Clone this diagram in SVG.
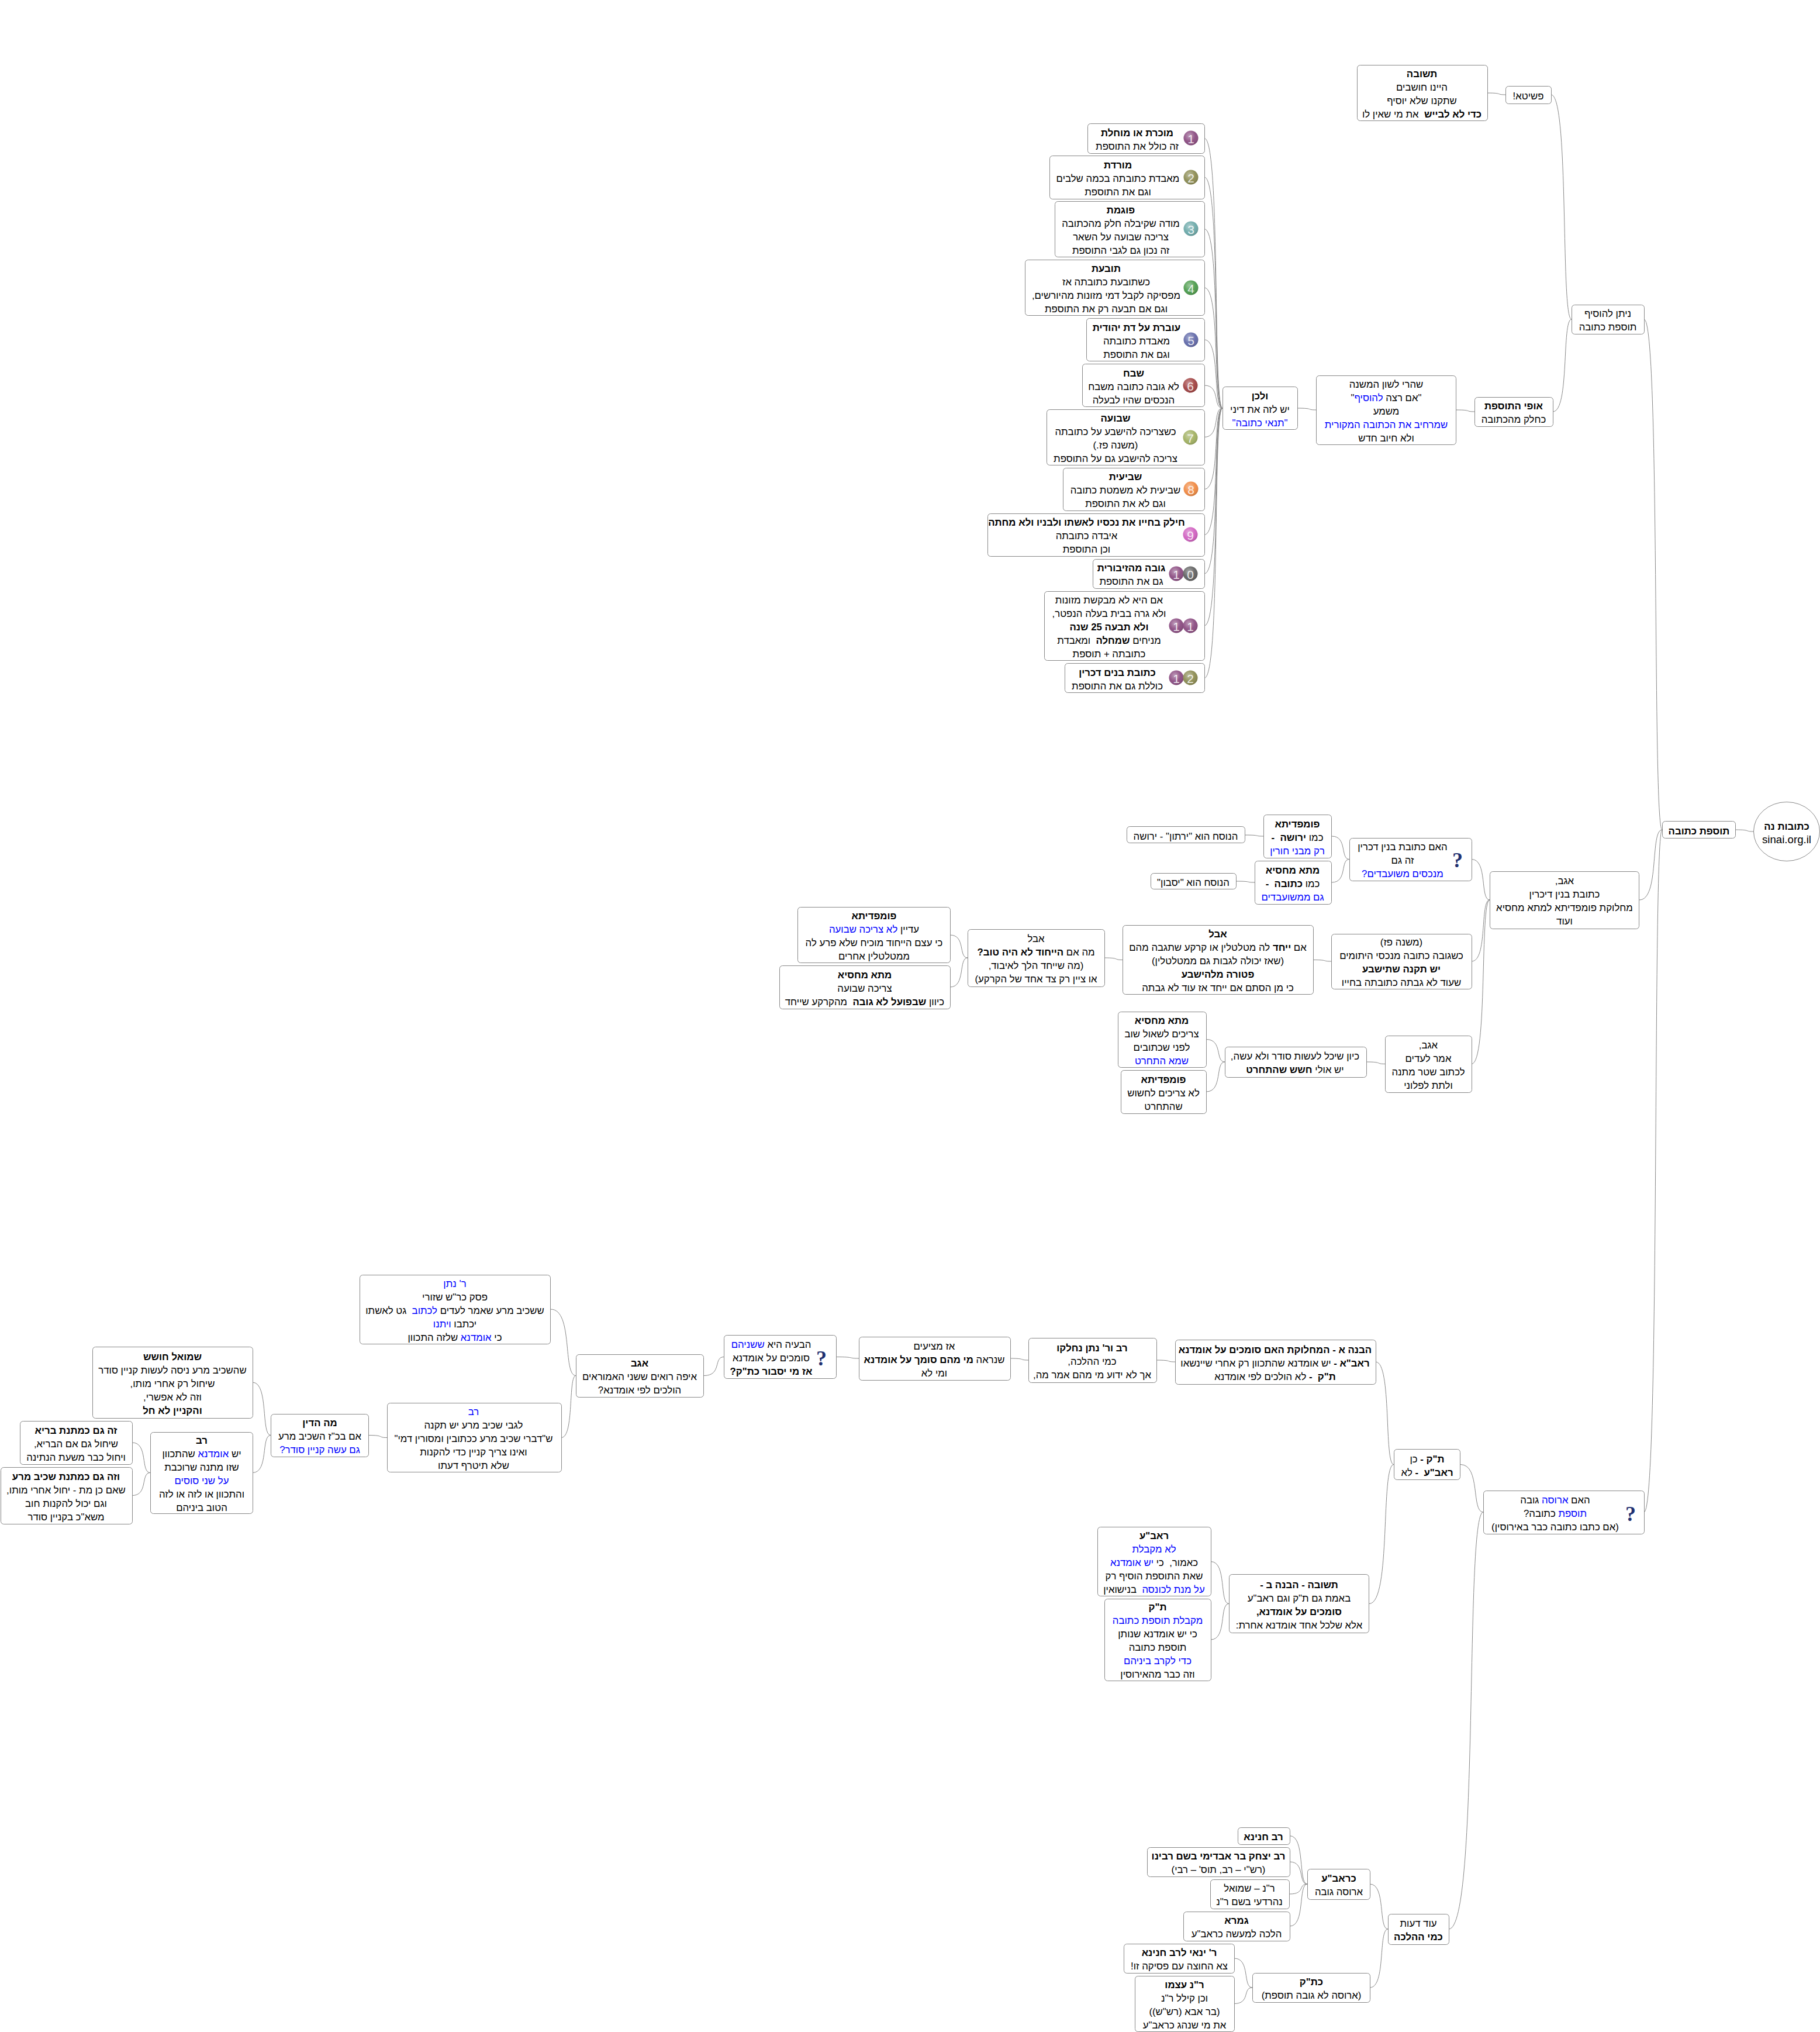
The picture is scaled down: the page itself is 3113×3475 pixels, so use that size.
<svg xmlns="http://www.w3.org/2000/svg" width="3113" height="3475" viewBox="0 0 3113 3475">
<style>
text{font-family:"Liberation Sans",Arial,sans-serif;font-size:16.8px;direction:rtl;text-anchor:middle;fill:#000;transform:translateY(1.5px)}
.b{font-weight:bold}
.u{fill:#00f}
rect,ellipse{fill:#fff;stroke:#888;stroke-width:1}
rect{rx:5px;ry:5px}
#edges path{fill:none;stroke:#888;stroke-width:1}
.gl{fill:url(#gloss);stroke:none}
text.d{font-size:21px;fill:#fff;direction:ltr;fill-opacity:.85}
text.q{font-family:"Liberation Serif",serif;font-weight:bold;font-size:36px;fill:#1f3070}
</style>
<defs>
<radialGradient id="gloss" cx=".4" cy=".35" r=".7"><stop offset="0" stop-color="#fff" stop-opacity=".45"/><stop offset=".6" stop-color="#fff" stop-opacity=".05"/><stop offset="1" stop-color="#000" stop-opacity=".2"/></radialGradient>
</defs>
<rect x="0" y="0" width="3113" height="3475" style="fill:#fff;stroke:none;rx:0;ry:0"/>
<g id="edges">
<path d="M2544 159C2572 159 2558 162 2575 162"/>
<path d="M2653 162C2684.500 162 2669 546 2688 546"/>
<path d="M2656 704C2685 704 2671 546 2688 546"/>
<path d="M2491 701C2519 701 2505 704 2522 704"/>
<path d="M2219 698C2248 698 2234 701 2251 701"/>
<path d="M2060 236.500C2088 236.500 2074 698 2091 698"/>
<path d="M2060 303C2088 303 2074 698 2091 698"/>
<path d="M2060 391.500C2088 391.500 2074 698 2091 698"/>
<path d="M2060 492C2088 492 2074 698 2091 698"/>
<path d="M2060 581C2088 581 2074 698 2091 698"/>
<path d="M2060 659C2088 659 2074 698 2091 698"/>
<path d="M2060 747.500C2088 747.500 2074 698 2091 698"/>
<path d="M2060 836.500C2088 836.500 2074 698 2091 698"/>
<path d="M2060 914.500C2088 914.500 2074 698 2091 698"/>
<path d="M2060 981C2088 981 2074 698 2091 698"/>
<path d="M2060 1070C2088 1070 2074 698 2091 698"/>
<path d="M2060 1159.500C2088 1159.500 2074 698 2091 698"/>
<path d="M2812 546C2840 546 2826 1419 2843 1419"/>
<path d="M2804 1539C2839 1539 2822 1419 2843 1419"/>
<path d="M2812 2586C2840 2586 2826 1419 2843 1419"/>
<path d="M2969 1419C2996 1419 2983 1422 2999 1422"/>
<path d="M2517 1469.500C2545 1469.500 2531 1539 2548 1539"/>
<path d="M2517 1644C2545 1644 2531 1539 2548 1539"/>
<path d="M2517 1819.500C2545 1819.500 2531 1539 2548 1539"/>
<path d="M2278 1430C2305 1430 2292 1469.500 2308 1469.500"/>
<path d="M2278 1509C2305 1509 2292 1469.500 2308 1469.500"/>
<path d="M2129 1428C2158 1428 2144 1430 2161 1430"/>
<path d="M2114 1507C2143 1507 2129 1509 2146 1509"/>
<path d="M2246 1641.500C2274 1641.500 2260 1644 2277 1644"/>
<path d="M1889 1638C1917 1638 1903 1641.500 1920 1641.500"/>
<path d="M1625 1599C1652 1599 1639 1638 1655 1638"/>
<path d="M1625 1688C1652 1688 1639 1638 1655 1638"/>
<path d="M2337 1816C2366 1816 2352 1819.500 2369 1819.500"/>
<path d="M2063 1777.500C2092 1777.500 2078 1816 2095 1816"/>
<path d="M2063 1867C2092 1867 2078 1816 2095 1816"/>
<path d="M2498 2504.500C2533 2504.500 2516 2586 2537 2586"/>
<path d="M2478 3299C2531 3299 2505 2586 2537 2586"/>
<path d="M2353 2329C2381 2329 2367 2504.500 2384 2504.500"/>
<path d="M2342 2742.500C2380 2742.500 2361 2504.500 2384 2504.500"/>
<path d="M1978 2326C2007 2326 1993 2329 2010 2329"/>
<path d="M1728 2323C1756 2323 1742 2326 1759 2326"/>
<path d="M1430 2320.500C1465 2320.500 1448 2323 1469 2323"/>
<path d="M1204 2352.500C1235 2352.500 1220 2320.500 1238 2320.500"/>
<path d="M942 2239C981 2239 962 2352.500 985 2352.500"/>
<path d="M960 2458.500C982.500 2458.500 971.500 2352.500 985 2352.500"/>
<path d="M630 2454.500C659 2454.500 645 2458.500 662 2458.500"/>
<path d="M432 2364C460 2364 446 2454.500 463 2454.500"/>
<path d="M432 2518.500C460 2518.500 446 2454.500 463 2454.500"/>
<path d="M226 2467C254 2467 240 2518.500 257 2518.500"/>
<path d="M226 2557.500C254 2557.500 240 2518.500 257 2518.500"/>
<path d="M2071 2670.500C2099 2670.500 2085 2742.500 2102 2742.500"/>
<path d="M2071 2804C2099 2804 2085 2742.500 2102 2742.500"/>
<path d="M2343 3222C2371 3222 2357 3299 2374 3299"/>
<path d="M2343 3399C2371 3399 2357 3299 2374 3299"/>
<path d="M2206 3139.500C2233 3139.500 2220 3222 2236 3222"/>
<path d="M2206 3184C2233 3184 2220 3222 2236 3222"/>
<path d="M2206 3239C2233 3239 2220 3222 2236 3222"/>
<path d="M2206 3294C2233 3294 2220 3222 2236 3222"/>
<path d="M2111 3349C2139 3349 2125 3399 2142 3399"/>
<path d="M2111 3426.500C2139 3426.500 2125 3399 2142 3399"/>
</g>
<g id="root"><ellipse cx="3056" cy="1422" rx="56.500" ry="50.500"/><text y="1417"><tspan x="3056" class="b">כתובות נה</tspan><tspan x="3056" dy="23" style="direction:ltr;font-size:18.67px">sinai.org.il</tspan></text></g>
<g id="tosefet"><rect x="2843.500" y="1404.500" width="125" height="29"/><text y="1425"><tspan x="2906" class="b">תוספת כתובה</tspan></text></g>
<g id="nitan"><rect x="2688.500" y="521.500" width="124" height="50"/><text y="540.500"><tspan x="2750">ניתן להוסיף</tspan><tspan x="2750" dy="23">תוספת כתובה</tspan></text></g>
<g id="pshita"><rect x="2575.500" y="147.500" width="78" height="30"/><text y="168"><tspan x="2614">פשיטא!</tspan></text></g>
<g id="teshuva"><rect x="2321.500" y="111.500" width="223" height="95"/><text y="130.500"><tspan x="2432" class="b">תשובה</tspan><tspan x="2432" dy="23">היינו חושבים</tspan><tspan x="2432" dy="23">שתקנו שלא יוסיף</tspan><tspan x="2432" dy="23"><tspan class="b">כדי לא לבייש</tspan>&#160; את מי שאין לו</tspan></text></g>
<g id="ofi"><rect x="2522.500" y="679.500" width="134" height="50"/><text y="698.500"><tspan x="2589" class="b">אופי התוספת</tspan><tspan x="2589" dy="23">כחלק מהכתובה</tspan></text></g>
<g id="sheharei"><rect x="2251.500" y="642.500" width="239" height="118"/><text y="661"><tspan x="2371">שהרי לשון המשנה</tspan><tspan x="2371" dy="23">"אם רצה <tspan class="u">להוסיף</tspan>"</tspan><tspan x="2371" dy="23">משמע</tspan><tspan x="2371" dy="23" class="u">שמרחיב את הכתובה המקורית</tspan><tspan x="2371" dy="23">ולא חיוב חדש</tspan></text></g>
<g id="velachen"><rect x="2091.500" y="661.500" width="128" height="73"/><text y="681"><tspan x="2155" class="b">ולכן</tspan><tspan x="2155" dy="23">יש לזה את דיני</tspan><tspan x="2155" dy="23" class="u">"תנאי כתובה"</tspan></text></g>
<g id="n1"><rect x="1860.500" y="211.500" width="200" height="51"/><text y="231"><tspan x="1945" class="b">מוכרת או מוחלת</tspan><tspan x="1945" dy="23">זה כולל את התוספת</tspan></text><circle cx="2037" cy="236" r="12.500" fill="#8a4a80"/><circle class="gl" cx="2037" cy="236" r="12.500"/><text class="d" x="2037" y="243">1</text></g>
<g id="n2"><rect x="1795.500" y="266.500" width="265" height="74"/><text y="286"><tspan x="1912" class="b">מורדת</tspan><tspan x="1912" dy="23">מאבדת כתובתה בכמה שלבים</tspan><tspan x="1912" dy="23">וגם את התוספת</tspan></text><circle cx="2037" cy="303" r="12.500" fill="#8a8a50"/><circle class="gl" cx="2037" cy="303" r="12.500"/><text class="d" x="2037" y="310">2</text></g>
<g id="n3"><rect x="1804.500" y="344.500" width="256" height="95"/><text y="363"><tspan x="1917" class="b">פוגמת</tspan><tspan x="1917" dy="23">מודה שקיבלה חלק מהכתובה</tspan><tspan x="1917" dy="23">צריכה שבועה על השאר</tspan><tspan x="1917" dy="23">זה נכון גם לגבי התוספת</tspan></text><circle cx="2037" cy="391" r="12.500" fill="#6aa8a8"/><circle class="gl" cx="2037" cy="391" r="12.500"/><text class="d" x="2037" y="398">3</text></g>
<g id="n4"><rect x="1753.500" y="444.500" width="307" height="95"/><text y="463.500"><tspan x="1892" class="b">תובעת</tspan><tspan x="1892" dy="23">כשתובעת כתובתה אז</tspan><tspan x="1892" dy="23">מפסיקה לקבל דמי מזונות מהיורשים,</tspan><tspan x="1892" dy="23">וגם אם תבעה רק את התוספת</tspan></text><circle cx="2037" cy="492" r="12.500" fill="#4a9a4a"/><circle class="gl" cx="2037" cy="492" r="12.500"/><text class="d" x="2037" y="499">4</text></g>
<g id="n5"><rect x="1858.500" y="544.500" width="202" height="73"/><text y="564"><tspan x="1944" class="b">עוברת על דת יהודית</tspan><tspan x="1944" dy="23">מאבדת כתובתה</tspan><tspan x="1944" dy="23">וגם את התוספת</tspan></text><circle cx="2037" cy="581" r="12.500" fill="#6068a8"/><circle class="gl" cx="2037" cy="581" r="12.500"/><text class="d" x="2037" y="588">5</text></g>
<g id="n6"><rect x="1851.500" y="622.500" width="209" height="73"/><text y="642"><tspan x="1939" class="b">שבח</tspan><tspan x="1939" dy="23">לא גובה כתובה משבח</tspan><tspan x="1939" dy="23">הנכסים שהיו לבעלה</tspan></text><circle cx="2036" cy="659" r="12.500" fill="#a04040"/><circle class="gl" cx="2036" cy="659" r="12.500"/><text class="d" x="2036" y="666">6</text></g>
<g id="n7"><rect x="1790.500" y="700.500" width="270" height="95"/><text y="719"><tspan x="1908" class="b">שבועה</tspan><tspan x="1908" dy="23">כשצריכה להישבע על כתובתה</tspan><tspan x="1908" dy="23">(משנה פז.)</tspan><tspan x="1908" dy="23">צריכה להישבע גם על התוספת</tspan></text><circle cx="2036" cy="748" r="12.500" fill="#a0b060"/><circle class="gl" cx="2036" cy="748" r="12.500"/><text class="d" x="2036" y="755">7</text></g>
<g id="n8"><rect x="1818.500" y="800.500" width="242" height="73"/><text y="819.500"><tspan x="1925" class="b">שביעית</tspan><tspan x="1925" dy="23">שביעית לא משמטת כתובה</tspan><tspan x="1925" dy="23">וגם לא את התוספת</tspan></text><circle cx="2037" cy="836" r="12.500" fill="#f08840"/><circle class="gl" cx="2037" cy="836" r="12.500"/><text class="d" x="2037" y="843">8</text></g>
<g id="n9"><rect x="1689.500" y="878.500" width="371" height="73"/><text y="897.500"><tspan x="1858.500" class="b">חילק בחייו את נכסיו לאשתו ולבניו ולא מחתה</tspan><tspan x="1858.500" dy="23">איבדה כתובתה</tspan><tspan x="1858.500" dy="23">וכן התוספת</tspan></text><circle cx="2036" cy="914" r="12.500" fill="#d060c0"/><circle class="gl" cx="2036" cy="914" r="12.500"/><text class="d" x="2036" y="921">9</text></g>
<g id="n10"><rect x="1869.500" y="956.500" width="191" height="50"/><text y="975.500"><tspan x="1935" class="b">גובה מהזיבורית</tspan><tspan x="1935" dy="23">גם את התוספת</tspan></text><circle cx="2012" cy="981" r="12.500" fill="#8a4a80"/><circle class="gl" cx="2012" cy="981" r="12.500"/><text class="d" x="2012" y="988">1</text><circle cx="2036" cy="981" r="12.500" fill="#606060"/><circle class="gl" cx="2036" cy="981" r="12.500"/><text class="d" x="2036" y="988">0</text></g>
<g id="n11"><rect x="1786.500" y="1011.500" width="274" height="118"/><text y="1030"><tspan x="1897">אם היא לא מבקשת מזונות</tspan><tspan x="1897" dy="23">ולא גרה בבית בעלה הנפטר,</tspan><tspan x="1897" dy="23" class="b">ולא תבעה 25 שנה</tspan><tspan x="1897" dy="23">מניחים <tspan class="b">שמחלה</tspan>&#160; ומאבדת</tspan><tspan x="1897" dy="23">כתובתה + תוספת</tspan></text><circle cx="2012" cy="1070" r="12.500" fill="#8a4a80"/><circle class="gl" cx="2012" cy="1070" r="12.500"/><text class="d" x="2012" y="1077">1</text><circle cx="2036" cy="1070" r="12.500" fill="#8a4a80"/><circle class="gl" cx="2036" cy="1070" r="12.500"/><text class="d" x="2036" y="1077">1</text></g>
<g id="n12"><rect x="1821.500" y="1134.500" width="239" height="50"/><text y="1154"><tspan x="1911" class="b">כתובת בנים דכרין</tspan><tspan x="1911" dy="23">כוללת גם את התוספת</tspan></text><circle cx="2012" cy="1159" r="12.500" fill="#8a4a80"/><circle class="gl" cx="2012" cy="1159" r="12.500"/><text class="d" x="2012" y="1166">1</text><circle cx="2036" cy="1159" r="12.500" fill="#8a8a50"/><circle class="gl" cx="2036" cy="1159" r="12.500"/><text class="d" x="2036" y="1166">2</text></g>
<g id="agav"><rect x="2548.500" y="1490.500" width="255" height="98"/><text y="1510.500"><tspan x="2676">אגב,</tspan><tspan x="2676" dy="23">כתובת בנין דיכרין</tspan><tspan x="2676" dy="23">מחלוקת פומפדיתא למתא מחסיא</tspan><tspan x="2676" dy="23">ועוד</tspan></text></g>
<g id="q"><rect x="2308.500" y="1433.500" width="209" height="73"/><text y="1452.500"><tspan x="2399">האם כתובת בנין דכרין</tspan><tspan x="2399" dy="23">זה גם</tspan><tspan x="2399" dy="23" class="u">מנכסים משועבדים?</tspan></text><text class="q" x="2493" y="1481">?</text></g>
<g id="pump"><rect x="2161.500" y="1393.500" width="116" height="74"/><text y="1413"><tspan x="2219" class="b">פומפדיתא</tspan><tspan x="2219" dy="23">כמו <tspan class="b">ירושה&#160; -</tspan></tspan><tspan x="2219" dy="23" class="u">רק מבני חורין</tspan></text></g>
<g id="mata"><rect x="2146.500" y="1472.500" width="131" height="74"/><text y="1492"><tspan x="2211" class="b">מתא מחסיא</tspan><tspan x="2211" dy="23">כמו <tspan class="b">כתובה&#160; -</tspan></tspan><tspan x="2211" dy="23" class="u">גם ממשועבדים</tspan></text></g>
<g id="nusach1"><rect x="1927.500" y="1413.500" width="202" height="28"/><text y="1434"><tspan x="2028">הנוסח הוא "ירתון" - ירושה</tspan></text></g>
<g id="nusach2"><rect x="1968.500" y="1493.500" width="146" height="27"/><text y="1513"><tspan x="2041">הנוסח הוא "יסבון"</tspan></text></g>
<g id="mishna"><rect x="2277.500" y="1597.500" width="240" height="94"/><text y="1615.500"><tspan x="2397">(משנה פז)</tspan><tspan x="2397" dy="23">כשגובה כתובה מנכסי היתומים</tspan><tspan x="2397" dy="23" class="b">יש תקנה שתישבע</tspan><tspan x="2397" dy="23">שעוד לא גבתה כתובתה בחייו</tspan></text></g>
<g id="aval"><rect x="1920.500" y="1582.500" width="326" height="118"/><text y="1601.500"><tspan x="2083" class="b">אבל</tspan><tspan x="2083" dy="23">אם <tspan class="b">ייחד</tspan> לה מטלטלין או קרקע שתגבה מהם</tspan><tspan x="2083" dy="23">(שאז יכולה לגבות גם ממטלטלין)</tspan><tspan x="2083" dy="23" class="b">פטורה מלהישבע</tspan><tspan x="2083" dy="23">כי מן הסתם אם ייחד אז עוד לא גבתה</tspan></text></g>
<g id="avalma"><rect x="1655.500" y="1589.500" width="234" height="98"/><text y="1609.500"><tspan x="1772">אבל</tspan><tspan x="1772" dy="23">מה אם <tspan class="b">הייחוד לא היה טוב?</tspan></tspan><tspan x="1772" dy="23">(מה שייחד הלך לאיבוד,</tspan><tspan x="1772" dy="23">או ציין רק צד אחד של הקרקע)</tspan></text></g>
<g id="pump3"><rect x="1364.500" y="1551.500" width="261" height="95"/><text y="1570.500"><tspan x="1495" class="b">פומפדיתא</tspan><tspan x="1495" dy="23">עדיין <tspan class="u">לא צריכה שבועה</tspan></tspan><tspan x="1495" dy="23">כי עצם הייחוד מוכיח שלא פרע לה</tspan><tspan x="1495" dy="23">ממטלטלין אחרים</tspan></text></g>
<g id="mata3"><rect x="1333.500" y="1651.500" width="292" height="74"/><text y="1671"><tspan x="1479" class="b">מתא מחסיא</tspan><tspan x="1479" dy="23">צריכה שבועה</tspan><tspan x="1479" dy="23">כיוון <tspan class="b">שבפועל לא גובה</tspan>&#160; מהקרקע שייחד</tspan></text></g>
<g id="agavamar"><rect x="2369.500" y="1771.500" width="148" height="97"/><text y="1791"><tspan x="2443">אגב,</tspan><tspan x="2443" dy="23">אמר לעדים</tspan><tspan x="2443" dy="23">לכתוב שטר מתנה</tspan><tspan x="2443" dy="23">ולתת לפלוני</tspan></text></g>
<g id="kevan"><rect x="2095.500" y="1790.500" width="242" height="52"/><text y="1810.500"><tspan x="2215">כיון שיכל לעשות סודר ולא עשה,</tspan><tspan x="2215" dy="23">יש אולי <tspan class="b">חשש שהתחרט</tspan></tspan></text></g>
<g id="mata2"><rect x="1912.500" y="1730.500" width="151" height="95"/><text y="1749"><tspan x="1987" class="b">מתא מחסיא</tspan><tspan x="1987" dy="23">צריכים לשאול שוב</tspan><tspan x="1987" dy="23">לפני שכתובים</tspan><tspan x="1987" dy="23" class="u">שמא התחרט</tspan></text></g>
<g id="pump2"><rect x="1917.500" y="1830.500" width="146" height="74"/><text y="1850"><tspan x="1990" class="b">פומפדיתא</tspan><tspan x="1990" dy="23">לא צריכים לחשוש</tspan><tspan x="1990" dy="23">שהתחרט</tspan></text></g>
<g id="haimarusa"><rect x="2537.500" y="2549.500" width="275" height="74"/><text y="2569"><tspan x="2660">האם <tspan class="u">ארוסה</tspan> גובה</tspan><tspan x="2660" dy="23"><tspan class="u">תוספת</tspan> כתובה?</tspan><tspan x="2660" dy="23">(אם כתבו כתובה כבר באירוסין)</tspan></text><text class="q" x="2789" y="2599">?</text></g>
<g id="tak"><rect x="2384.500" y="2478.500" width="113" height="52"/><text y="2499"><tspan x="2441"><tspan class="b">ת"ק -</tspan> כן</tspan><tspan x="2441" dy="23"><tspan class="b">ראב"ע&#160; -</tspan> לא</tspan></text></g>
<g id="havana"><rect x="2010.500" y="2291.500" width="343" height="76"/><text y="2312"><tspan x="2181" class="b">הבנה א - המחלוקת האם סומכים על אומדנא</tspan><tspan x="2181" dy="23"><tspan class="b">ראב"א -</tspan> יש אומדנא שהתכוון רק אחרי שיינשאו</tspan><tspan x="2181" dy="23"><tspan class="b">ת"ק&#160; -</tspan> לא הולכים לפי אומדנא</tspan></text></g>
<g id="ravnatan"><rect x="1759.500" y="2288.500" width="219" height="76"/><text y="2309"><tspan x="1868" class="b">רב ור' נתן נחלקו</tspan><tspan x="1868" dy="23">כמי ההלכה,</tspan><tspan x="1868" dy="23">אך לא ידוע מי מהם אמר מה,</tspan></text></g>
<g id="az"><rect x="1469.500" y="2286.500" width="259" height="74"/><text y="2306"><tspan x="1598">אז מציעים</tspan><tspan x="1598" dy="23">שנראה <tspan class="b">מי מהם סומך על אומדנא</tspan></tspan><tspan x="1598" dy="23">ומי לא</tspan></text></g>
<g id="baaya"><rect x="1238.500" y="2283.500" width="192" height="74"/><text y="2303.500"><tspan x="1319">הבעיה היא <tspan class="u">ששניהם</tspan></tspan><tspan x="1319" dy="23">סומכים על אומדנא</tspan><tspan x="1319" dy="23" class="b">אז מי יסבור כת"ק?</tspan></text><text class="q" x="1405" y="2333">?</text></g>
<g id="agav3"><rect x="985.500" y="2316.500" width="218" height="73"/><text y="2335.500"><tspan x="1094" class="b">אגב</tspan><tspan x="1094" dy="23">איפה רואים ששני האמוראים</tspan><tspan x="1094" dy="23">הולכים לפי אומדנא?</tspan></text></g>
<g id="rnatan"><rect x="615.500" y="2180.500" width="326" height="118"/><text y="2199"><tspan x="778" class="u">ר' נתן</tspan><tspan x="778" dy="23">פסק כר"ש שזורי</tspan><tspan x="778" dy="23">ששכיב מרע שאמר לעדים <tspan class="u">לכתוב</tspan>&#160; גט לאשתו</tspan><tspan x="778" dy="23">יכתבו <tspan class="u">ויתנו</tspan></tspan><tspan x="778" dy="23">כי <tspan class="u">אומדנא</tspan> שלזה התכוון</tspan></text></g>
<g id="rav"><rect x="662.500" y="2399.500" width="298" height="118"/><text y="2418.500"><tspan x="810" class="u">רב</tspan><tspan x="810" dy="23">לגבי שכיב מרע יש תקנה</tspan><tspan x="810" dy="23">ש"דברי שכיב מרע ככתובין ומסורין דמי"</tspan><tspan x="810" dy="23">ואינו צריך קניין כדי להקנות</tspan><tspan x="810" dy="23">שלא תיטרף דעתו</tspan></text></g>
<g id="mahadin"><rect x="463.500" y="2418.500" width="167" height="73"/><text y="2437.500"><tspan x="547" class="b">מה הדין</tspan><tspan x="547" dy="23">אם בכ"ז השכיב מרע</tspan><tspan x="547" dy="23" class="u">גם עשה קניין סודר?</tspan></text></g>
<g id="shmuel"><rect x="158.500" y="2303.500" width="274" height="122"/><text y="2324"><tspan x="295" class="b">שמואל חושש</tspan><tspan x="295" dy="23">שהשכיב מרע ניסה לעשות קניין סודר</tspan><tspan x="295" dy="23">שיחול רק אחרי מותו,</tspan><tspan x="295" dy="23">וזה לא אפשרי,</tspan><tspan x="295" dy="23" class="b">והקניין לא חל</tspan></text></g>
<g id="rav2"><rect x="257.500" y="2449.500" width="175" height="139"/><text y="2467"><tspan x="345" class="b">רב</tspan><tspan x="345" dy="23">יש <tspan class="u">אומדנא</tspan> שהתכוון</tspan><tspan x="345" dy="23">שזו מתנה שרוכבת</tspan><tspan x="345" dy="23" class="u">על שני סוסים</tspan><tspan x="345" dy="23">והתכוון או לזה או לזה</tspan><tspan x="345" dy="23">הטוב ביניהם</tspan></text></g>
<g id="zegam"><rect x="34.500" y="2430.500" width="192" height="74"/><text y="2450"><tspan x="130" class="b">זה גם כמתנת בריא</tspan><tspan x="130" dy="23">שיחול גם אם הבריא,</tspan><tspan x="130" dy="23">ויחול כבר משעת הנתינה</tspan></text></g>
<g id="veze"><rect x="1.500" y="2509.500" width="225" height="97"/><text y="2529"><tspan x="113" class="b">וזה גם כמתנת שכיב מרע</tspan><tspan x="113" dy="23">שאם כן מת - יחול אחרי מותו,</tspan><tspan x="113" dy="23">וגם יכול להקנות חוב</tspan><tspan x="113" dy="23">משא"כ בקניין סודר</tspan></text></g>
<g id="raba"><rect x="1877.500" y="2611.500" width="194" height="118"/><text y="2630.500"><tspan x="1974" class="b">ראב"ע</tspan><tspan x="1974" dy="23" class="u">לא מקבלת</tspan><tspan x="1974" dy="23">כאמור,&#160; כי <tspan class="u">יש אומדנא</tspan></tspan><tspan x="1974" dy="23">שאת התוספת הוסיף רק</tspan><tspan x="1974" dy="23"><tspan class="u">על מנת לכונסה</tspan>&#160; בנישואין</tspan></text></g>
<g id="tk"><rect x="1889.500" y="2734.500" width="182" height="140"/><text y="2752.500"><tspan x="1980" class="b">ת"ק</tspan><tspan x="1980" dy="23" class="u">מקבלת תוספת כתובה</tspan><tspan x="1980" dy="23">כי יש אומדנא שנותן</tspan><tspan x="1980" dy="23">תוספת כתובה</tspan><tspan x="1980" dy="23" class="u">כדי לקרב ביניהם</tspan><tspan x="1980" dy="23">וזה כבר מהאירוסין</tspan></text></g>
<g id="teshuva2"><rect x="2102.500" y="2692.500" width="239" height="100"/><text y="2714"><tspan x="2222" class="b">תשובה - הבנה ב -</tspan><tspan x="2222" dy="23">באמת גם ת"ק וגם ראב"ע</tspan><tspan x="2222" dy="23" class="b">סומכים על אומדנא,</tspan><tspan x="2222" dy="23">אלא שלכל אחד אומדנא אחרת:</tspan></text></g>
<g id="oddeot"><rect x="2374.500" y="3273.500" width="104" height="52"/><text y="3293.500"><tspan x="2426">עוד דעות</tspan><tspan x="2426" dy="23" class="b">כמי ההלכה</tspan></text></g>
<g id="kraba"><rect x="2236.500" y="3196.500" width="107" height="52"/><text y="3216.500"><tspan x="2290" class="b">כראב"ע</tspan><tspan x="2290" dy="23">ארוסה גובה</tspan></text></g>
<g id="ravh"><rect x="2117.500" y="3125.500" width="89" height="29"/><text y="3145.500"><tspan x="2161" class="b">רב חנינא</tspan></text></g>
<g id="ravy"><rect x="1962.500" y="3159.500" width="244" height="50"/><text y="3178.500"><tspan x="2084" class="b">רב יצחק בר אבדימי בשם רבינו</tspan><tspan x="2084" dy="23">(רש"י – רב, תוס' – רבי)</tspan></text></g>
<g id="rn"><rect x="2070.500" y="3214.500" width="135" height="50"/><text y="3233.500"><tspan x="2137">ר"נ – שמואל</tspan><tspan x="2137" dy="23">נהרדעי בשם ר"נ</tspan></text></g>
<g id="gemara"><rect x="2024.500" y="3269.500" width="182" height="50"/><text y="3288.500"><tspan x="2115" class="b">גמרא</tspan><tspan x="2115" dy="23">הלכה למעשה כראב"ע</tspan></text></g>
<g id="katak"><rect x="2142.500" y="3374.500" width="201" height="50"/><text y="3393.500"><tspan x="2243" class="b">כת"ק</tspan><tspan x="2243" dy="23">(ארוסה לא גובה תוספת)</tspan></text></g>
<g id="ryanai"><rect x="1922.500" y="3324.500" width="189" height="50"/><text y="3343.500"><tspan x="2017" class="b">ר' ינאי לרב חנינא</tspan><tspan x="2017" dy="23">צא החוצה עם פסיקה זו!</tspan></text></g>
<g id="rnatzmo"><rect x="1941.500" y="3379.500" width="170" height="95"/><text y="3398"><tspan x="2026" class="b">ר"נ עצמו</tspan><tspan x="2026" dy="23">וכן קילל ר"נ</tspan><tspan x="2026" dy="23">(בר אבא (רש"ש))</tspan><tspan x="2026" dy="23">את מי שנהג כראב"ע</tspan></text></g>
</svg>
